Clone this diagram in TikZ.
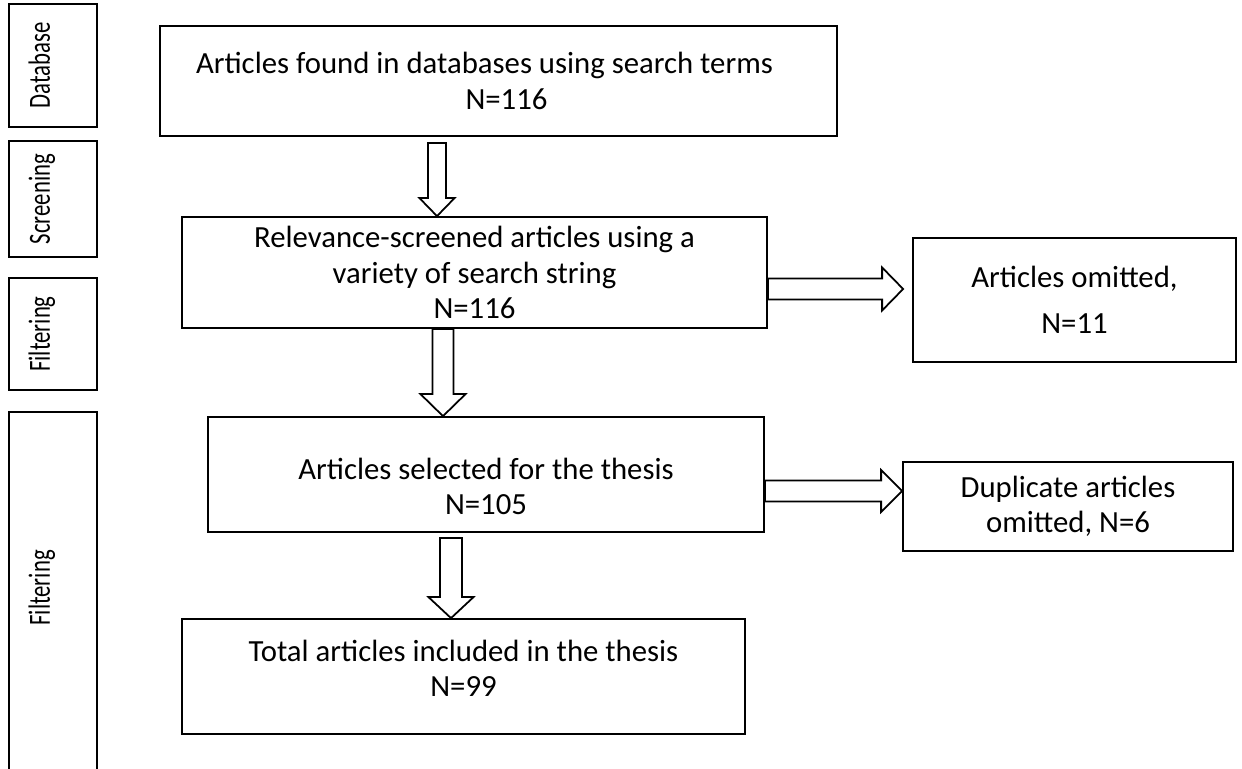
\documentclass[tikz,border=0pt]{standalone}
\usepackage{fontspec}
\setmainfont{Carlito}
\usetikzlibrary{positioning, calc}

\def\lift#1{\raisebox{1.8pt}[0pt][0pt]{\scalebox{0.74}[1]{#1}}}

% Hollow block arrows: #1 tail, #2 target, #3 half shaft, #4 half head, #5 head length
\newcommand{\blkdown}[5]{%
  \draw[blk] let \p1=(#1), \p2=(#1 |- #2) in
    (\x1-#3,\y1) -- (\x1-#3,\y2+#5) -- (\x1-#4,\y2+#5) -- (\x2,\y2)
    -- (\x1+#4,\y2+#5) -- (\x1+#3,\y2+#5) -- (\x1+#3,\y1) -- cycle;}
\newcommand{\blkright}[5]{%
  \draw[blk] let \p1=(#1), \p2=(#2 |- #1) in
    (\x1,\y1+#3) -- (\x2-#5,\y1+#3) -- (\x2-#5,\y1+#4) -- (\x2,\y1)
    -- (\x2-#5,\y1-#4) -- (\x2-#5,\y1-#3) -- (\x1,\y1-#3) -- cycle;}

\begin{document}
\begin{tikzpicture}[
    % Stage label on the left
    stage/.style={
        draw,
        line width=1pt,
        rotate=90,
        minimum width=#1,
        minimum height=1.76cm,
        inner sep=0pt,
        font=\fontsize{17.5}{20}\selectfont
    },
    % Flow box style
    flowbox/.style={
        draw,
        line width=1pt,
        align=center,
        inner sep=0pt,
        font=\fontsize{17.5}{20}\selectfont
    },
    % Hollow block arrow
    blk/.style={
        draw,
        line width=1pt,
        fill=white,
        line join=miter
    }
]

\useasboundingbox (0,0) rectangle (24.84,15.38);

% Stages
\node[stage=2.46cm] (database) at (1.06,14.07) {\lift{Database}};
\node[stage=2.32cm] (screening) at (1.06,11.40) {\lift{Screening}};
\node[stage=2.24cm] (filtering) at (1.06,8.70) {\lift{Filtering}};
\node[stage=7.40cm] (filtering2) at (1.06,3.44) {\lift{\hspace*{0.49cm}Filtering}};

% Main flow
\node[flowbox, minimum width=13.54cm, minimum height=2.20cm] (found) at (9.97,13.76) {Articles found in databases using search terms\hspace*{0.56cm}\\\hspace*{0.32cm}N=116};
\node[flowbox, minimum width=11.70cm, minimum height=2.22cm] (screened) at (9.49,9.93) {Relevance-screened articles using a\\variety of search string\\N=116};
\node[flowbox, minimum width=11.12cm, minimum height=2.30cm] (selected) at (9.72,5.89) {\rule{0pt}{26pt}Articles selected for the thesis\\N=105};
\node[flowbox, minimum width=11.26cm, minimum height=2.30cm] (total) at (9.27,1.85) {Total articles included in the thesis\\N=99\rule[-9pt]{0pt}{9pt}};

% Omitted articles
\node[flowbox, minimum width=6.46cm, minimum height=2.48cm] (omitted) at (21.49,9.38) {Articles omitted,\\[6pt]N=11};
\node[flowbox, minimum width=6.60cm, minimum height=1.78cm] (duplicate) at (21.36,5.25) {Duplicate articles\\omitted, N=6};

% Arrow ends
\coordinate (t1) at (8.74,12.52);
\coordinate (c2) at (8.86,0);
\coordinate (t2) at (c2 |- screened.south);
\coordinate (t3) at (9.02,4.62);
\coordinate (r1) at (0,9.60);
\coordinate (t4) at (screened.east |- r1);
\coordinate (p4) at ([xshift=-0.18cm]omitted.west);
\coordinate (r2) at (0,5.56);
\coordinate (t5) at (selected.east |- r2);

\blkdown{t1}{screened.north}{0.18cm}{0.35cm}{0.36cm}
\blkdown{t2}{selected.north}{0.21cm}{0.45cm}{0.44cm}
\blkdown{t3}{total.north}{0.22cm}{0.45cm}{0.42cm}
\blkright{t4}{p4}{0.21cm}{0.43cm}{0.42cm}
\blkright{t5}{duplicate.west}{0.21cm}{0.42cm}{0.42cm}

\end{tikzpicture}
\end{document}
